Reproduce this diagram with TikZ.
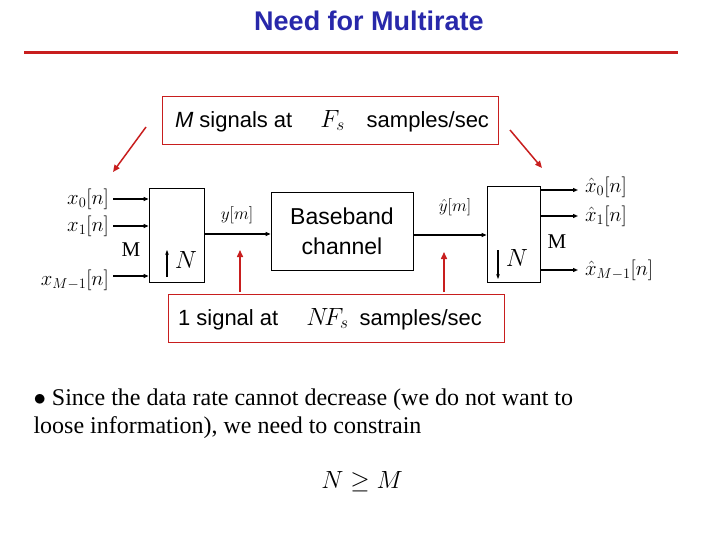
\documentclass[tikz,border=0pt]{standalone}
\usepackage{fontspec}
\setmainfont{Liberation Serif}
\setsansfont{Liberation Sans}
\usetikzlibrary{arrows.meta}
\definecolor{tblue}{RGB}{40,40,170}
\definecolor{dred}{RGB}{200,30,30}
\begin{document}
\begin{tikzpicture}[x=1pt,y=-1pt,
  redbox/.style={draw=dred,line width=0.8pt},
  blk/.style={draw,line width=0.8pt},
  sig/.style={-{Triangle[length=5pt,width=4pt]},line width=1.2pt},
  redarr/.style={-{Triangle[length=7pt,width=6pt]},draw=dred,line width=1.5pt},
  mth/.style={font=\fontsize{21}{22}\selectfont,inner sep=1pt}]
\useasboundingbox (0,0) rectangle (720,540);
\node[font=\fontsize{27}{30}\selectfont\sffamily\bfseries,text=tblue] (title) at (369,21) {Need for Multirate};
\coordinate (la) at (24,53); \coordinate (lb) at (678,53);
\draw[dred,line width=3pt] (la) -- (lb);
% top box
\node[redbox,minimum width=336,minimum height=48] (top) at (330,120) {};
\node[font=\fontsize{22}{24}\selectfont\sffamily] (toptxt) at (332,121) {\textit{M} signals at \quad{\fontsize{26}{30}\selectfont$F_s$}\quad samples/sec};
% bottom box
\node[redbox,minimum width=336,minimum height=48] (bot) at (336,318) {};
\node[font=\fontsize{22}{24}\selectfont\sffamily] (bottxt) at (330,319) {1 signal at \quad{\fontsize{26}{30}\selectfont$N\!F_s$}\enspace samples/sec};
% red arrows
\coordinate (r1s) at (146,127); \coordinate (r1e) at (113,172);
\coordinate (r2s) at (510,130); \coordinate (r2e) at (542,168);
\draw[redarr] (r1s) -- (r1e);
\draw[redarr] (r2s) -- (r2e);
\coordinate (r3s) at (240,292); \coordinate (r3e) at (240,250);
\coordinate (r4s) at (444,292); \coordinate (r4e) at (444,252);
\draw[redarr] (r3s) -- (r3e);
\draw[redarr] (r4s) -- (r4e);
% left block
\node[blk,minimum width=55,minimum height=94] (L) at (176.5,235) {};
\foreach \y/\n/\t in {199/a/{x_0[n]},226/b/{x_1[n]},280/c/{x_{M-1}[n]}}{
  \node[mth,anchor=east] (in\n) at (110,\y) {$\t$};
}
\foreach \y/\n in {199/a,226/b,276/c}{
  \coordinate (s\n) at (113,\y);
  \draw[sig] (s\n) -- (L.west |- s\n);
}
\node[mth] (LM) at (131,250) {M};
\coordinate (ua) at (167,277); \coordinate (ub) at (167,250);
\draw[-{Stealth[length=5pt]},line width=1.2pt] (ua) -- (ub);
\node[font=\fontsize{28}{30}\selectfont] (LN) at (186,260) {$N$};
% baseband
\node[blk,minimum width=142,minimum height=78,align=center,font=\fontsize{23}{30}\selectfont\sffamily] (B) at (342,231) {Baseband\\channel};
\draw[sig] (L.east |- 0,234) -- (B.west |- 0,234);
\node[mth,font=\fontsize{16}{18}\selectfont] (ym) at (237,215) {$y[m]$};
% right block
\node[blk,minimum width=53,minimum height=96] (R) at (513.5,234) {};
\draw[sig] (B.east |- 0,235) -- (R.west |- 0,235);
\node[mth,font=\fontsize{16}{18}\selectfont] (yh) at (455,207) {$\hat y[m]$};
\foreach \y/\n/\t in {187/a/{\hat x_0[n]},216/b/{\hat x_1[n]},270/c/{\hat x_{M-1}[n]}}{
  \node[mth,anchor=west] (out\n) at (584,\y) {$\t$};
}
\foreach \y/\n in {190/a,216/b,270/c}{
  \coordinate (e\n) at (578,\y);
  \draw[sig] (R.east |- e\n) -- (e\n);
}
\node[mth] (RM) at (557,242) {M};
\coordinate (da) at (498,250); \coordinate (db) at (498,279);
\draw[-{Stealth[length=5pt]},line width=1.2pt] (da) -- (db);
\node[font=\fontsize{28}{30}\selectfont] (RN) at (517,258) {$N$};
% text
\node[anchor=west,align=left,font=\fontsize{24}{28}\selectfont] (txt) at (30,414) {$\bullet$ Since the data rate cannot decrease (we do not want to\\loose information), we need to constrain};
\node[font=\fontsize{24}{28}\selectfont] (ineq) at (362,482) {$N\geq M$};
\end{tikzpicture}
\end{document}
